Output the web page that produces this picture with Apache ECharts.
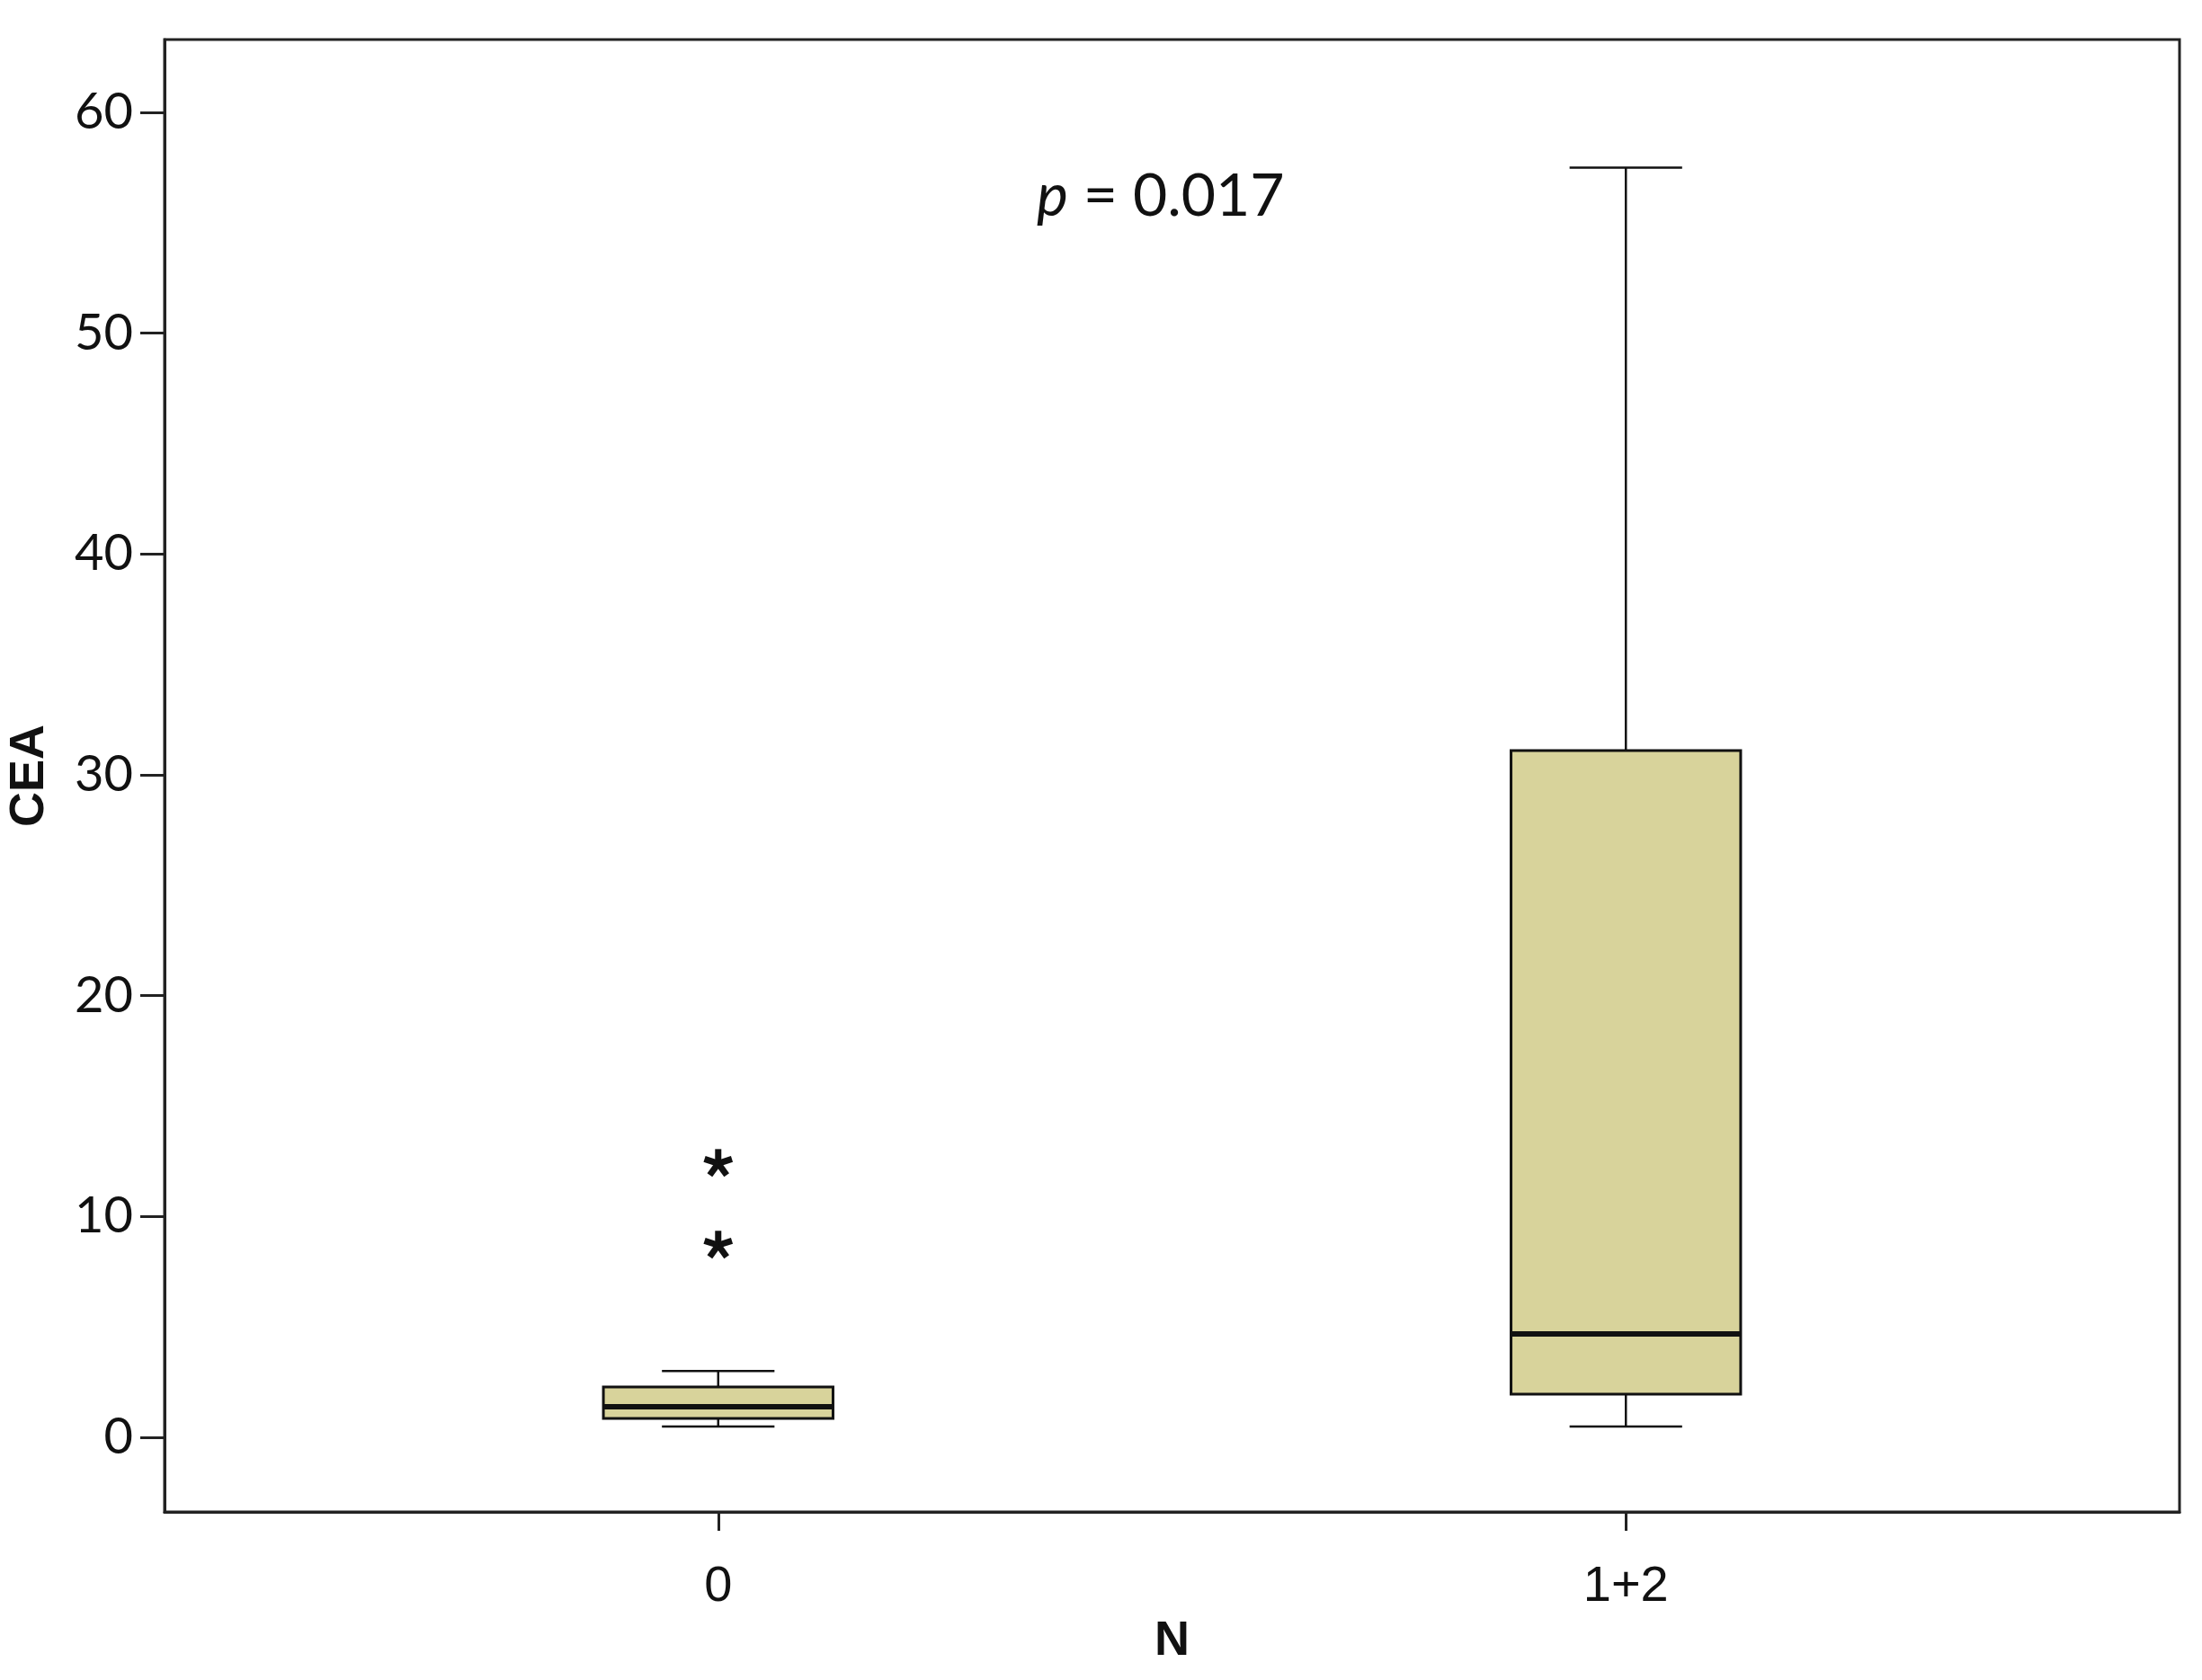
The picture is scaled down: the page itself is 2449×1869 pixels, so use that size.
<!DOCTYPE html>
<html>
<head>
<meta charset="utf-8">
<script src="https://cdn.jsdelivr.net/npm/echarts@6/dist/echarts.min.js"></script>
<style>
  html, body { margin: 0; padding: 0; background: #fff; }
  #chart { width: 2449px; height: 1869px; }
</style>
</head>
<body>
<div id="chart"></div>
<script>
// groups on the x axis (0 and 1+2)
var groups = ['0', '1+2']
var groupPos = [0, 1]
// box stats per group: low whisker, Q1, median, Q3, high whisker
var lowWhisker = [0.49, 0.49]
var q1 = [0.85, 1.95]
var median = [1.38, 4.68]
var q3 = [2.28, 31.1]
var highWhisker = [3.0, 57.5]
// outliers (asterisks) -> [group index, value]
var outliers = [[0, 12.4], [0, 8.7]]
var yTicks = [0, 10, 20, 30, 40, 50, 60]

var boxData = groupPos.map(function (x, i) {
  return [x, lowWhisker[i], q1[i], median[i], q3[i], highWhisker[i]]
})
var outlierData = outliers.map(function (o) { return [groupPos[o[0]], o[1]] })

var chart = echarts.init(document.getElementById('chart'))

var option = {
  backgroundColor: '#fff',
  animation: false,
  grid: {
    left: 183,
    top: 44,
    width: 2241,
    height: 1638,
    show: true,
    borderColor: '#222',
    borderWidth: 3,
    backgroundColor: 'transparent',
    outerBoundsMode: 'none',
  },
  xAxis: {
    type: 'value',
    min: -0.61,
    max: 1.61,
    splitLine: { show: false },
    axisLine: { show: true, onZero: false, lineStyle: { color: '#222', width: 3 } },
    axisTick: {
      show: true,
      customValues: groupPos,
      length: 21,
      lineStyle: { color: '#222', width: 3 },
    },
    axisLabel: {
      customValues: groupPos,
      formatter: function (v) { return groups[Math.round(v)] },
      margin: 56,
      fontFamily: 'Liberation Sans',
      fontSize: 56,
      color: '#111',
    },
    name: 'N',
    nameLocation: 'middle',
    nameGap: 116,
    nameTextStyle: {
      fontFamily: 'Liberation Sans',
      fontWeight: 'bold',
      fontSize: 54,
      color: '#111',
      verticalAlign: 'top',
    },
  },
  yAxis: {
    type: 'value',
    min: -3.38,
    max: 63.3,
    splitLine: { show: false },
    axisLine: { show: true, onZero: false, lineStyle: { color: '#222', width: 3 } },
    axisTick: {
      show: true,
      customValues: yTicks,
      length: 27,
      lineStyle: { color: '#222', width: 3 },
    },
    axisLabel: {
      customValues: yTicks,
      margin: 35,
      fontFamily: 'Lato',
      fontSize: 56,
      color: '#111',
    },
    name: 'CEA',
    nameLocation: 'middle',
    nameGap: 123,
    nameRotate: 90,
    nameTextStyle: {
      fontFamily: 'Liberation Sans',
      fontWeight: 'bold',
      fontSize: 54,
      color: '#111',
    },
  },
  graphic: [
    {
      type: 'text',
      left: 1153,
      top: 186,
      style: {
        text: '{i|p} = 0.017',
        rich: {
          i: { fontStyle: 'italic', fontFamily: 'Lato', fontSize: 66, fill: '#111' },
        },
        font: '66px Lato',
        fill: '#111',
      },
    },
  ],
  series: [
    {
      type: 'custom',
      data: boxData,
      renderItem: function (params, api) {
        var x = api.value(0)
        var pLow = api.coord([x, api.value(1)])
        var pQ1 = api.coord([x, api.value(2)])
        var pMed = api.coord([x, api.value(3)])
        var pQ3 = api.coord([x, api.value(4)])
        var pHigh = api.coord([x, api.value(5)])
        var halfBox = api.size([0.253, 0])[0] / 2
        var halfCap = api.size([0.124, 0])[0] / 2
        var cx = pMed[0]
        var line = { stroke: '#111', lineWidth: 2.5 }
        return {
          type: 'group',
          children: [
            { type: 'line', shape: { x1: cx, y1: pHigh[1], x2: cx, y2: pQ3[1] }, style: line },
            { type: 'line', shape: { x1: cx, y1: pQ1[1], x2: cx, y2: pLow[1] }, style: line },
            { type: 'line', shape: { x1: cx - halfCap, y1: pHigh[1], x2: cx + halfCap, y2: pHigh[1] }, style: line },
            { type: 'line', shape: { x1: cx - halfCap, y1: pLow[1], x2: cx + halfCap, y2: pLow[1] }, style: line },
            {
              type: 'rect',
              shape: { x: cx - halfBox, y: pQ3[1], width: halfBox * 2, height: pQ1[1] - pQ3[1] },
              style: { fill: '#d8d39b', stroke: '#111', lineWidth: 3 },
            },
            { type: 'line', shape: { x1: cx - halfBox, y1: pMed[1], x2: cx + halfBox, y2: pMed[1] }, style: { stroke: '#111', lineWidth: 6 } },
          ],
        }
      },
    },
    {
      type: 'custom',
      data: outlierData,
      renderItem: function (params, api) {
        var p = api.coord([api.value(0), api.value(1)])
        var arms = []
        for (var k = 0; k < 5; k++) {
          var a = (-90 + k * 72) * Math.PI / 180
          arms.push({
            type: 'line',
            shape: { x1: p[0], y1: p[1], x2: p[0] + 16 * Math.cos(a), y2: p[1] + 16 * Math.sin(a) },
            style: { stroke: '#111', lineWidth: 7, lineCap: 'butt' },
          })
        }
        return { type: 'group', children: arms }
      },
    },
  ],
}

chart.setOption(option)
</script>
</body>
</html>
